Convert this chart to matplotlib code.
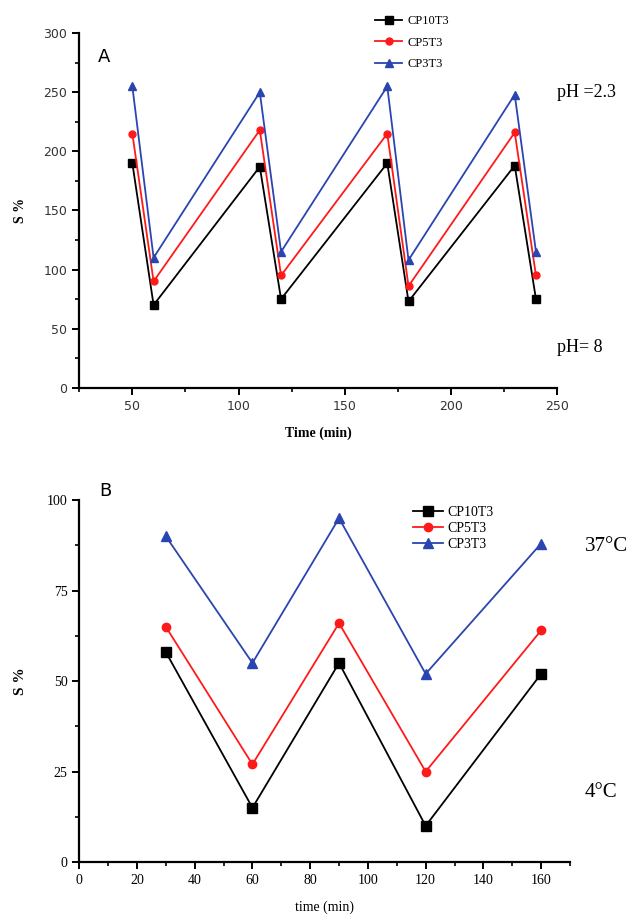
import matplotlib.pyplot as plt
from matplotlib.ticker import MultipleLocator

# ---------------- data ----------------
# panel A: swelling vs time, pH switching 2.3 / 8
time_a = [50, 60, 110, 120, 170, 180, 230, 240]
cp10_a = [190, 70, 187, 75, 190, 73, 188, 75]
cp5_a = [215, 90, 218, 95, 215, 86, 216, 95]
cp3_a = [255, 110, 250, 115, 255, 108, 248, 115]

# panel B: swelling vs time, temperature switching 37 / 4 C
time_b = [30, 60, 90, 120, 160]
cp10_b = [58, 15, 55, 10, 52]
cp5_b = [65, 27, 66, 25, 64]
cp3_b = [90, 55, 95, 52, 88]

names = ["CP10T3", "CP5T3", "CP3T3"]
colors = ["#000000", "#ff1a1a", "#2a45b0"]
markers = ["s", "o", "^"]
msize_a = [6, 5, 6]
msize_b = [7, 6, 7]

serif = ["Liberation Serif", "DejaVu Serif"]

fig = plt.figure(figsize=(6.39, 9.21), dpi=100)
ax_a = fig.add_axes([0.124, 0.579, 0.748, 0.385])
ax_b = fig.add_axes([0.124, 0.064, 0.768, 0.393])


def style_axes(ax):
    for s in ["top", "right"]:
        ax.spines[s].set_visible(False)
    for s in ["left", "bottom"]:
        ax.spines[s].set_linewidth(1.6)
    ax.tick_params(which="major", direction="out", length=5, width=1.4)
    ax.tick_params(which="minor", direction="out", length=3, width=1.2)


# ---------------- panel A ----------------
for ys, n, c, m, ms in zip([cp10_a, cp5_a, cp3_a], names, colors, markers, msize_a):
    ax_a.plot(time_a, ys, color=c, marker=m, ms=ms, lw=1.3, label=n)
ax_a.set_xlim(25, 250)
ax_a.set_ylim(0, 300)
ax_a.xaxis.set_major_locator(MultipleLocator(50))
ax_a.xaxis.set_minor_locator(MultipleLocator(25))
ax_a.yaxis.set_major_locator(MultipleLocator(50))
ax_a.yaxis.set_minor_locator(MultipleLocator(25))
style_axes(ax_a)
for lab in ax_a.get_xticklabels() + ax_a.get_yticklabels():
    lab.set_fontsize(9)
    lab.set_color("#333333")
ax_a.set_xlabel("Time (min)", fontsize=10, family=serif, fontweight="bold", labelpad=10)
ax_a.set_ylabel("S %", fontsize=10, family=serif, fontweight="bold", labelpad=12)
ax_a.text(0.04, 0.92, "A", transform=ax_a.transAxes, fontsize=13, family="DejaVu Sans")
ax_a.text(1.0, 0.82, "pH =2.3", transform=ax_a.transAxes, fontsize=13, family=serif)
ax_a.text(1.0, 0.10, "pH= 8", transform=ax_a.transAxes, fontsize=13, family=serif)
ax_a.legend(loc="upper left", bbox_to_anchor=(0.6, 1.075), frameon=False,
            prop={"family": serif, "size": 9}, handlelength=2.2,
            labelspacing=0.75, borderpad=0.2, handletextpad=0.4)

# ---------------- panel B ----------------
for ys, n, c, m, ms in zip([cp10_b, cp5_b, cp3_b], names, colors, markers, msize_b):
    ax_b.plot(time_b, ys, color=c, marker=m, ms=ms, lw=1.3, label=n)
ax_b.set_xlim(0, 170)
ax_b.set_ylim(0, 100)
ax_b.xaxis.set_major_locator(MultipleLocator(20))
ax_b.xaxis.set_minor_locator(MultipleLocator(10))
ax_b.yaxis.set_major_locator(MultipleLocator(25))
ax_b.yaxis.set_minor_locator(MultipleLocator(12.5))
style_axes(ax_b)
for lab in ax_b.get_xticklabels() + ax_b.get_yticklabels():
    lab.set_fontsize(10)
    lab.set_family(serif)
ax_b.set_xlabel("time (min)", fontsize=10, family=serif, labelpad=10)
ax_b.set_ylabel("S %", fontsize=11, family=serif, fontweight="bold", labelpad=14)
ax_b.text(0.04, 1.01, "B", transform=ax_b.transAxes, fontsize=13, family="DejaVu Sans")
ax_b.text(1.03, 0.86, "37°C", transform=ax_b.transAxes, fontsize=15, family=serif)
ax_b.text(1.03, 0.18, "4°C", transform=ax_b.transAxes, fontsize=15, family=serif)
ax_b.legend(loc="upper left", bbox_to_anchor=(0.66, 1.01), frameon=False,
            prop={"family": serif, "size": 10}, handlelength=2.2,
            labelspacing=0.2, borderpad=0.2, handletextpad=0.3)

plt.savefig("out.png", dpi=100)
plt.close()
